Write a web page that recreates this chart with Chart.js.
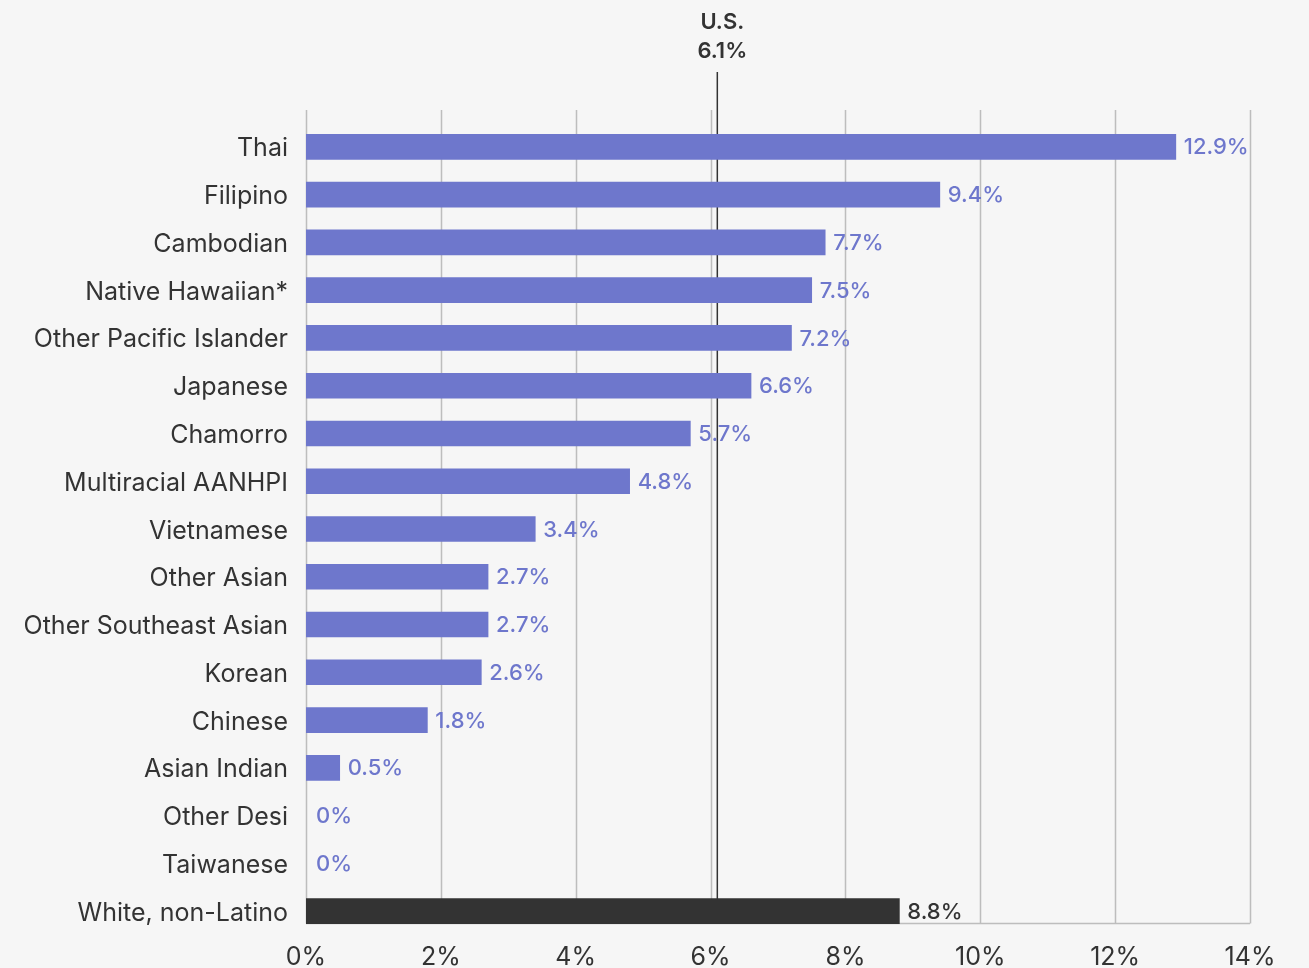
<!DOCTYPE html>
<html>
<head>
<meta charset="utf-8">
<script src="https://cdn.jsdelivr.net/npm/chart.js@4"></script>
<style>
  html, body { margin: 0; padding: 0; background: #f6f6f6; }
  #wrap { width: 1309px; height: 968px; position: relative; }
</style>
</head>
<body>
<div id="wrap"><canvas id="c" width="1309" height="968"></canvas></div>
<script>
const categories = ["Thai", "Filipino", "Cambodian", "Native Hawaiian*", "Other Pacific Islander", "Japanese", "Chamorro", "Multiracial AANHPI", "Vietnamese", "Other Asian", "Other Southeast Asian", "Korean", "Chinese", "Asian Indian", "Other Desi", "Taiwanese", "White, non-Latino"];
const values = [12.9, 9.4, 7.7, 7.5, 7.2, 6.6, 5.7, 4.8, 3.4, 2.7, 2.7, 2.6, 1.8, 0.5, 0, 0, 8.8];
const xTicks = [0, 2, 4, 6, 8, 10, 12, 14];
const usValue = 6.1;
const usLabel = ["U.S.", "6.1%"];

const PURPLE = "#6E77CC";
const DARK = "#333333";
const barColors = categories.map(c => c === "White, non-Latino" ? DARK : PURPLE);
const FONT = "Inter, 'Noto Sans', sans-serif";

const decor = {
  id: "decor",
  beforeDatasetsDraw(chart) {
    const ctx = chart.ctx, x = chart.scales.x, y = chart.scales.y;
    const top = chart.chartArea.top - 13;
    const bottom = y.getPixelForValue(categories.length - 1) + 12.5;
    ctx.save();
    ctx.strokeStyle = "#bdbdbd";
    ctx.lineWidth = 1.5;
    xTicks.forEach(v => {
      const px = Math.round(x.getPixelForValue(v)) + 0.5;
      ctx.beginPath(); ctx.moveTo(px, top); ctx.lineTo(px, bottom); ctx.stroke();
    });
    ctx.beginPath();
    ctx.moveTo(x.getPixelForValue(0), bottom);
    ctx.lineTo(x.getPixelForValue(14), bottom);
    ctx.stroke();
    // US line
    const ux = x.getPixelForValue(usValue);
    ctx.strokeStyle = DARK;
    ctx.lineWidth = 1.5;
    ctx.beginPath(); ctx.moveTo(ux, top - 38); ctx.lineTo(ux, bottom); ctx.stroke();
    ctx.fillStyle = DARK;
    ctx.font = "600 22px " + FONT;
    ctx.textAlign = "center";
    ctx.textBaseline = "middle";
    ctx.fillText(usLabel[0], ux + 5, 22);
    ctx.fillText(usLabel[1], ux + 5, 51);
    ctx.restore();
  },
  afterDatasetsDraw(chart) {
    const ctx = chart.ctx;
    const meta = chart.getDatasetMeta(0);
    ctx.save();
    ctx.font = "500 22px " + FONT;
    ctx.textAlign = "left";
    ctx.textBaseline = "middle";
    meta.data.forEach((bar, i) => {
      ctx.fillStyle = barColors[i];
      const off = values[i] === 0 ? 10 : 8;
      ctx.fillText(values[i] + "%", bar.x + off, bar.y + 1);
    });
    ctx.restore();
  }
};

new Chart(document.getElementById("c"), {
  type: "bar",
  data: {
    labels: categories,
    datasets: [{
      data: values,
      backgroundColor: c => values[c.dataIndex] === 0 ? "rgba(0,0,0,0)" : barColors[c.dataIndex],
      barThickness: 25,
      borderWidth: 0
    }]
  },
  options: {
    indexAxis: "y",
    responsive: false,
    animation: false,
    layout: { padding: { top: 123, right: 59, left: 0, bottom: 0 } },
    plugins: { legend: { display: false }, tooltip: { enabled: false } },
    scales: {
      x: {
        type: "linear",
        min: 0, max: 14,
        afterBuildTicks: s => { s.ticks = xTicks.map(v => ({ value: v })); },
        grid: { display: false, drawTicks: false },
        border: { display: false },
        ticks: {
          callback: v => v + "%",
          color: DARK,
          font: { family: FONT, size: 25 },
          padding: 7,
          maxRotation: 0
        },
        afterFit: s => { s.height = 33; }
      },
      y: {
        type: "category",
        offset: true,
        grid: { display: false, drawTicks: false },
        border: { display: false },
        ticks: {
          color: DARK,
          font: { family: FONT, size: 25 },
          padding: 18,
          labelOffset: 2,
          autoSkip: false
        },
        afterFit: s => { s.width = 306; }
      }
    }
  },
  plugins: [decor]
});
</script>
</body>
</html>
